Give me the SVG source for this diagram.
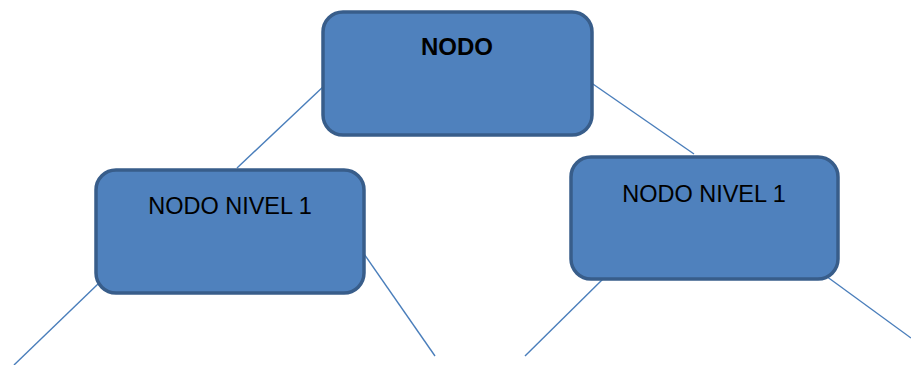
<svg xmlns="http://www.w3.org/2000/svg" width="911" height="365" viewBox="0 0 911 365">
<style>
.node{fill:#4f81bd;stroke:#385d8a;stroke-width:3.5}
.edge{stroke:#4a7ebb;stroke-width:1.4;fill:none}
.lbl{font-family:"Liberation Sans",Arial,sans-serif;fill:#000;text-anchor:middle}
</style>
<rect width="911" height="365" fill="#fff"/>
<g id="connectors">
<line class="edge" x1="325" y1="85" x2="237" y2="168"/>
<line class="edge" x1="590" y1="82" x2="694" y2="154"/>
<line class="edge" x1="98" y1="284" x2="14" y2="365"/>
<line class="edge" x1="362" y1="251" x2="435" y2="356"/>
<line class="edge" x1="606" y1="276" x2="525" y2="356"/>
<line class="edge" x1="826" y1="276" x2="911" y2="338"/>
</g>
<g id="root">
<rect class="node" x="323" y="12" width="269" height="123" rx="20"/>
<text class="lbl" x="457" y="55" font-size="24" font-weight="bold">NODO</text>
</g>
<g id="left">
<rect class="node" x="96" y="170" width="268" height="123" rx="20"/>
<text class="lbl" x="230" y="214" font-size="23.5">NODO NIVEL 1</text>
</g>
<g id="right">
<rect class="node" x="571" y="157" width="267" height="122" rx="20"/>
<text class="lbl" x="704" y="202" font-size="23.5">NODO NIVEL 1</text>
</g>
</svg>
